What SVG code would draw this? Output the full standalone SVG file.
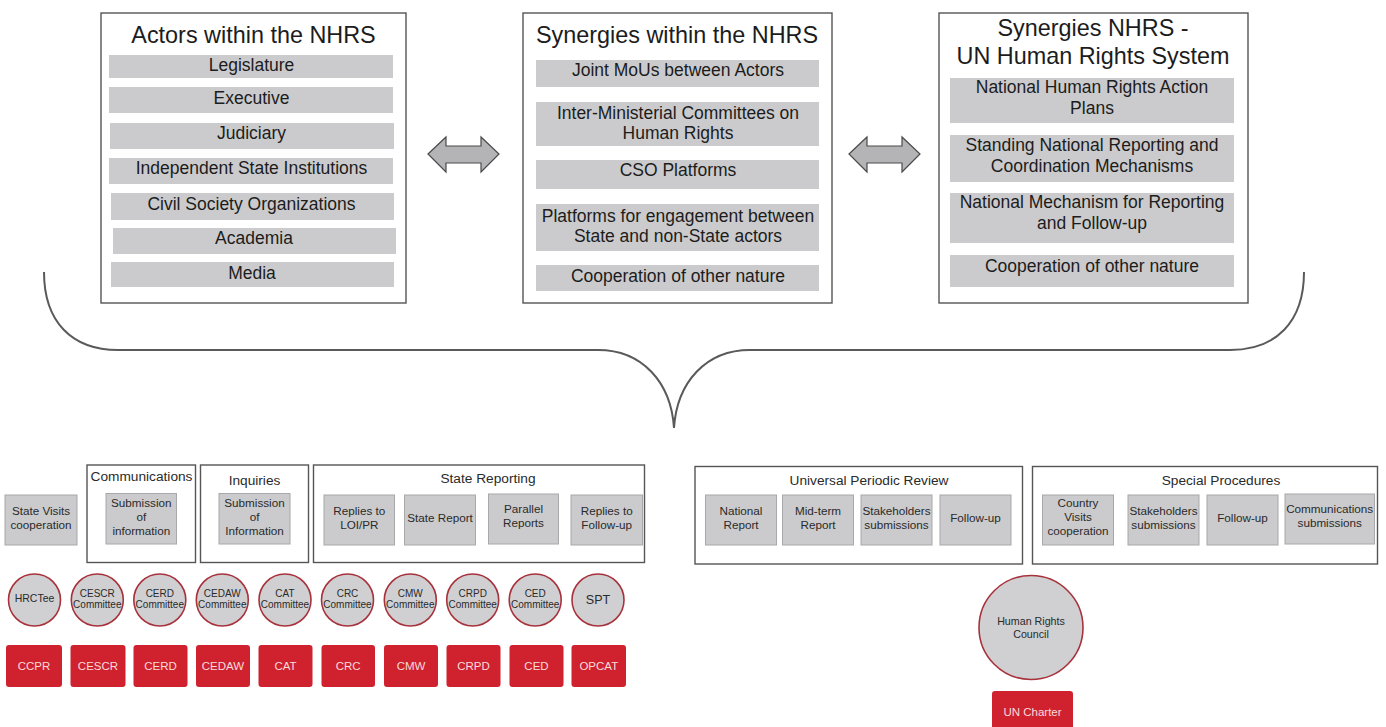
<svg xmlns="http://www.w3.org/2000/svg" width="1386" height="727" viewBox="0 0 1386 727">
<style>
text{font-family:"Liberation Sans",Arial,Helvetica,sans-serif;fill:#1c1c1c;text-anchor:middle}
.frame{fill:#fff;stroke:#555;stroke-width:1.4}
.bar{fill:#cbcbcd}
.gbox{fill:#cbcbcd;stroke:#a8a8aa;stroke-width:1}
.t1{font-size:23.4px}
.t2{font-size:17.5px}
.t3{font-size:13.7px;fill:#2a2a2a}
.t4{font-size:11.7px;fill:#2a2a2a}
.circ{fill:#d0d0d2;stroke:#a8323c;stroke-width:1.6}
.ct{font-size:10px;fill:#2a2a2a}
.red{fill:#d0212e}
.rt{font-size:11.5px;fill:#f7dcdc}
.dbl{fill:#b4b4b6;stroke:#4a4a4a;stroke-width:1.2;stroke-linejoin:miter}
.brace{fill:none;stroke:#5a5a5a;stroke-width:2}
</style>

<g id="actors">
<rect class="frame" x="101" y="13" width="305" height="290"/>
<text class="t1" x="253.5" y="43">Actors within the NHRS</text>
<rect class="bar" x="109" y="55" width="284" height="23"/>
<text class="t2" x="251.5" y="70.5">Legislature</text>
<rect class="bar" x="109" y="87" width="284" height="26"/>
<text class="t2" x="251.5" y="103.5">Executive</text>
<rect class="bar" x="110" y="123" width="284" height="26"/>
<text class="t2" x="251.5" y="138.5">Judiciary</text>
<rect class="bar" x="109" y="158" width="284" height="26"/>
<text class="t2" x="251.5" y="174">Independent State Institutions</text>
<rect class="bar" x="111" y="193" width="283" height="27"/>
<text class="t2" x="251.5" y="209.5">Civil Society Organizations</text>
<rect class="bar" x="113" y="228" width="283" height="26"/>
<text class="t2" x="254" y="244">Academia</text>
<rect class="bar" x="111" y="262" width="283" height="25"/>
<text class="t2" x="252" y="278.5">Media</text>
</g>

<g id="synergies-within">
<rect class="frame" x="523" y="13" width="309" height="290"/>
<text class="t1" x="677" y="43">Synergies within the NHRS</text>
<rect class="bar" x="536" y="60" width="283" height="27"/>
<text class="t2" x="678" y="76">Joint MoUs between Actors</text>
<rect class="bar" x="536" y="102" width="283" height="44"/>
<text class="t2" x="678" y="119.3">Inter-Ministerial Committees on</text>
<text class="t2" x="678" y="139.3">Human Rights</text>
<rect class="bar" x="536" y="160" width="283" height="29"/>
<text class="t2" x="678" y="176">CSO Platforms</text>
<rect class="bar" x="536" y="204" width="283" height="47"/>
<text class="t2" x="678" y="221.7">Platforms for engagement between</text>
<text class="t2" x="678" y="241.7">State and non-State actors</text>
<rect class="bar" x="536" y="265" width="283" height="26"/>
<text class="t2" x="678" y="281.5">Cooperation of other nature</text>
</g>

<g id="synergies-un">
<rect class="frame" x="939" y="13" width="309" height="290"/>
<text class="t1" x="1093" y="36">Synergies NHRS -</text>
<text class="t1" x="1093" y="64">UN Human Rights System</text>
<rect class="bar" x="950" y="78" width="284" height="45"/>
<text class="t2" x="1092" y="93.3">National Human Rights Action</text>
<text class="t2" x="1092" y="114">Plans</text>
<rect class="bar" x="950" y="135" width="284" height="47"/>
<text class="t2" x="1092" y="150.7">Standing National Reporting and</text>
<text class="t2" x="1092" y="171.7">Coordination Mechanisms</text>
<rect class="bar" x="950" y="193" width="284" height="50"/>
<text class="t2" x="1092" y="208.3">National Mechanism for Reporting</text>
<text class="t2" x="1092" y="229.3">and Follow-up</text>
<rect class="bar" x="950" y="255" width="284" height="32"/>
<text class="t2" x="1092" y="271.7">Cooperation of other nature</text>
</g>

<g id="connectors">
<polygon class="dbl" points="428,154 446,137 446,146 481,146 481,137 499,154 481,172 481,163 446,163 446,172"/>
<polygon class="dbl" points="849,154 867,137 867,146 902,146 902,137 920,154 902,172 902,163 867,163 867,172"/>
<path class="brace" d="M44,272 C44,322 72,350 118,350 L598,350 C642,350 671,382 674,428 C677,382 706,350 750,350 L1230,350 C1276,350 1304,322 1304,272"/>
</g>

<g id="state-visits">
<rect class="gbox" x="5" y="495" width="72" height="50"/>
<text class="t4" x="41" y="515">State Visits</text>
<text class="t4" x="41" y="528.5">cooperation</text>
</g>

<g id="communications">
<rect class="frame" x="87" y="465" width="108.5" height="97.5"/>
<text class="t3" x="141.5" y="481">Communications</text>
<rect class="gbox" x="106" y="493.5" width="70.5" height="50.5"/>
<text class="t4" x="141.3" y="507">Submission</text>
<text class="t4" x="141.3" y="521">of</text>
<text class="t4" x="141.3" y="535">information</text>
</g>

<g id="inquiries">
<rect class="frame" x="200.5" y="465" width="108" height="97.5"/>
<text class="t3" x="254.5" y="485">Inquiries</text>
<rect class="gbox" x="219" y="493.5" width="71" height="50.5"/>
<text class="t4" x="254.5" y="507">Submission</text>
<text class="t4" x="254.5" y="521">of</text>
<text class="t4" x="254.5" y="535">Information</text>
</g>

<g id="state-reporting">
<rect class="frame" x="313.5" y="465" width="331" height="97.5"/>
<text class="t3" x="488" y="483">State Reporting</text>
<rect class="gbox" x="324" y="495" width="70.5" height="50"/>
<text class="t4" x="359.3" y="515">Replies to</text>
<text class="t4" x="359.3" y="528.5">LOI/PR</text>
<rect class="gbox" x="404.5" y="495" width="71" height="50"/>
<text class="t4" x="440" y="521.7">State Report</text>
<rect class="gbox" x="488.5" y="494" width="70" height="50"/>
<text class="t4" x="523.5" y="513.3">Parallel</text>
<text class="t4" x="523.5" y="526.8">Reports</text>
<rect class="gbox" x="571" y="495" width="71.5" height="50"/>
<text class="t4" x="606.7" y="515">Replies to</text>
<text class="t4" x="606.7" y="528.5">Follow-up</text>
</g>

<g id="upr">
<rect class="frame" x="695" y="466.5" width="327.5" height="97.5"/>
<text class="t3" x="869" y="485">Universal Periodic Review</text>
<rect class="gbox" x="705.5" y="495" width="71" height="50"/>
<text class="t4" x="741" y="515">National</text>
<text class="t4" x="741" y="528.5">Report</text>
<rect class="gbox" x="782.5" y="495" width="71" height="50"/>
<text class="t4" x="818" y="515">Mid-term</text>
<text class="t4" x="818" y="528.5">Report</text>
<rect class="gbox" x="861" y="495" width="71" height="50"/>
<text class="t4" x="896.5" y="515">Stakeholders</text>
<text class="t4" x="896.5" y="528.5">submissions</text>
<rect class="gbox" x="940" y="495" width="71" height="50"/>
<text class="t4" x="975.5" y="521.7">Follow-up</text>
</g>

<g id="special-procedures">
<rect class="frame" x="1032.5" y="466.5" width="345" height="97.5"/>
<text class="t3" x="1221" y="485">Special Procedures</text>
<rect class="gbox" x="1042.5" y="495" width="71" height="50"/>
<text class="t4" x="1078" y="507">Country</text>
<text class="t4" x="1078" y="521">Visits</text>
<text class="t4" x="1078" y="535">cooperation</text>
<rect class="gbox" x="1128" y="495" width="71" height="50"/>
<text class="t4" x="1163.5" y="515">Stakeholders</text>
<text class="t4" x="1163.5" y="528.5">submissions</text>
<rect class="gbox" x="1207" y="495" width="71" height="50"/>
<text class="t4" x="1242.5" y="521.7">Follow-up</text>
<rect class="gbox" x="1285" y="494" width="89.5" height="50"/>
<text class="t4" x="1329.7" y="513.3">Communications</text>
<text class="t4" x="1329.7" y="526.8">submissions</text>
</g>

<g id="hrctee"><circle class="circ" cx="34.5" cy="600" r="26"/><text class="ct" x="34.5" y="602" style="font-size:10.5px">HRCTee</text></g>
<g id="cescr-committee"><circle class="circ" cx="97.3" cy="600" r="26"/><text class="ct" x="97.3" y="596.5">CESCR</text><text class="ct" x="97.3" y="607.5">Committee</text></g>
<g id="cerd-committee"><circle class="circ" cx="159.8" cy="600" r="26"/><text class="ct" x="159.8" y="596.5">CERD</text><text class="ct" x="159.8" y="607.5">Committee</text></g>
<g id="cedaw-committee"><circle class="circ" cx="222.3" cy="600" r="26"/><text class="ct" x="222.3" y="596.5">CEDAW</text><text class="ct" x="222.3" y="607.5">Committee</text></g>
<g id="cat-committee"><circle class="circ" cx="285" cy="600" r="26"/><text class="ct" x="285" y="596.5">CAT</text><text class="ct" x="285" y="607.5">Committee</text></g>
<g id="crc-committee"><circle class="circ" cx="347.5" cy="600" r="26"/><text class="ct" x="347.5" y="596.5">CRC</text><text class="ct" x="347.5" y="607.5">Committee</text></g>
<g id="cmw-committee"><circle class="circ" cx="410.3" cy="600" r="26"/><text class="ct" x="410.3" y="596.5">CMW</text><text class="ct" x="410.3" y="607.5">Committee</text></g>
<g id="crpd-committee"><circle class="circ" cx="472.7" cy="600" r="26"/><text class="ct" x="472.7" y="596.5">CRPD</text><text class="ct" x="472.7" y="607.5">Committee</text></g>
<g id="ced-committee"><circle class="circ" cx="535.2" cy="600" r="26"/><text class="ct" x="535.2" y="596.5">CED</text><text class="ct" x="535.2" y="607.5">Committee</text></g>
<g id="spt"><circle class="circ" cx="598" cy="600" r="26"/><text class="ct" x="598" y="603.5" style="font-size:12.5px">SPT</text></g>

<g id="ccpr"><rect class="red" x="6" y="645" width="56" height="42" rx="3"/><text class="rt" x="34" y="670">CCPR</text></g>
<g id="cescr"><rect class="red" x="70.5" y="645" width="55" height="42" rx="3"/><text class="rt" x="98" y="670">CESCR</text></g>
<g id="cerd"><rect class="red" x="133.5" y="645" width="54" height="42" rx="3"/><text class="rt" x="160.5" y="670">CERD</text></g>
<g id="cedaw"><rect class="red" x="196" y="645" width="54" height="42" rx="3"/><text class="rt" x="223" y="670">CEDAW</text></g>
<g id="cat"><rect class="red" x="258.5" y="645" width="54" height="42" rx="3"/><text class="rt" x="285.5" y="670">CAT</text></g>
<g id="crc"><rect class="red" x="321.5" y="645" width="53.5" height="42" rx="3"/><text class="rt" x="348.2" y="670">CRC</text></g>
<g id="cmw"><rect class="red" x="384" y="645" width="54" height="42" rx="3"/><text class="rt" x="411" y="670">CMW</text></g>
<g id="crpd"><rect class="red" x="446.5" y="645" width="54" height="42" rx="3"/><text class="rt" x="473.5" y="670">CRPD</text></g>
<g id="ced"><rect class="red" x="509.5" y="645" width="54" height="42" rx="3"/><text class="rt" x="536.5" y="670">CED</text></g>
<g id="opcat"><rect class="red" x="571.5" y="645" width="54.5" height="42" rx="3"/><text class="rt" x="598.8" y="670">OPCAT</text></g>

<g id="human-rights-council"><circle class="circ" cx="1031" cy="627.5" r="52"/><text class="ct" x="1031" y="625" style="font-size:10.7px">Human Rights</text><text class="ct" x="1031" y="638" style="font-size:10.7px">Council</text></g>
<g id="un-charter"><rect class="red" x="992" y="691" width="81" height="46" rx="3"/><text class="rt" x="1032.5" y="715.5">UN Charter</text></g>
</svg>
